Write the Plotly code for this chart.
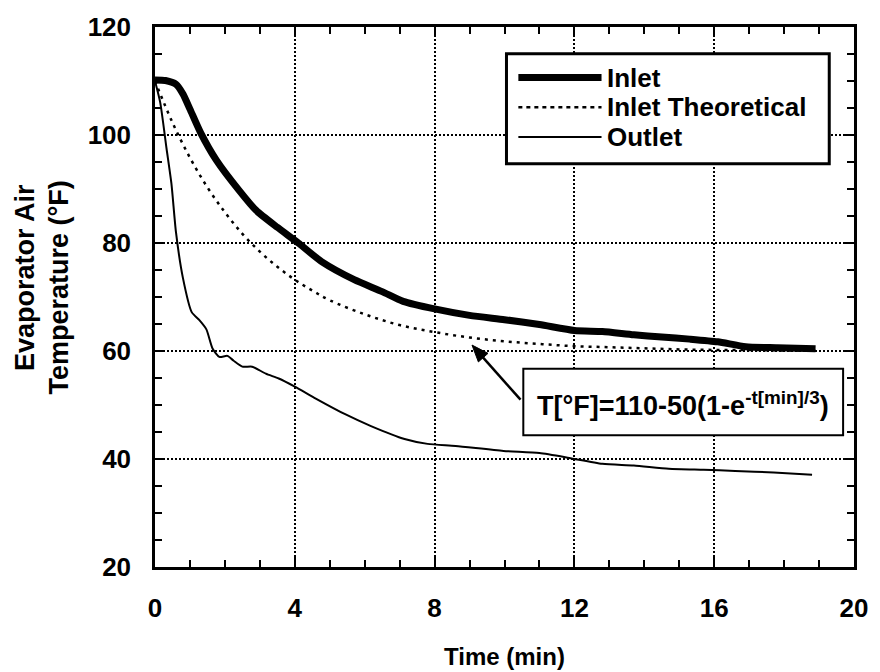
import math
import plotly.graph_objects as go

# Time (min) and evaporator air temperature (°F)
inlet_t = [0, 0.3, 0.6, 0.8, 1.0, 1.3, 1.75, 2.4, 2.9, 3.5, 4.1, 4.8, 5.7, 6.5, 7.1,
           8.0, 9.0, 10.0, 11.0, 12.0, 12.8, 13.7, 14.5, 15.3, 16.1, 16.9, 17.8, 18.9]
inlet_T = [110.2, 110.1, 109.4, 107.6, 104.8, 100.5, 95.4, 89.8, 86.0, 82.9, 80.0, 76.4,
           73.2, 71.0, 69.2, 67.8, 66.6, 65.8, 64.9, 63.8, 63.6, 63.0, 62.6, 62.2, 61.7,
           60.8, 60.6, 60.4]

theory_t = [0, 0.5, 1, 1.5, 2, 2.5, 3, 3.5, 4, 4.5, 5, 6, 7, 8, 9, 10, 11, 12, 13, 14,
            15, 16, 17, 18, 19]
theory_T = [110.0, 102.3, 95.8, 90.3, 85.7, 81.7, 78.4, 75.6, 73.2, 71.2, 69.4, 66.8,
            64.8, 63.5, 62.5, 61.8, 61.3, 60.9, 60.7, 60.5, 60.3, 60.2, 60.2, 60.1, 60.1]

outlet_t = [0, 0.15, 0.33, 0.47, 0.6, 0.8, 1.05, 1.27, 1.47, 1.65, 1.84, 2.07, 2.25, 2.5,
            2.78, 3.17, 3.54, 4.0, 4.6, 5.44, 6.18, 7.14, 7.8, 8.6, 9.97, 11.0, 11.85,
            12.8, 13.7, 14.7, 15.7, 16.6, 17.7, 18.8]
outlet_T = [110.0, 106.0, 97.5, 91.0, 82.0, 73.5, 67.2, 65.7, 64.0, 60.4, 58.9, 59.1,
            58.2, 57.1, 57.1, 55.8, 54.9, 53.4, 51.2, 48.3, 46.1, 43.7, 42.8, 42.4, 41.5,
            41.1, 40.2, 39.1, 38.8, 38.2, 38.0, 37.8, 37.5, 37.1]

series_names = ["Inlet", "Inlet Theoretical", "Outlet"]
x_ticks = [0, 4, 8, 12, 16, 20]
y_ticks = [20, 40, 60, 80, 100, 120]
x_range = [0, 20]
y_range = [20, 120]
x_title = "Time (min)"
y_title_lines = ["Evaporator Air", "Temperature (°F)"]
formula_text = "T[°F]=110-50(1-e<sup>-t[min]/3</sup>)"

# arrow target on the theoretical curve
arrow_t, arrow_T = 9.07, 61.1

FONT = "Liberation Sans, Arial, Helvetica, sans-serif"

# plot-area geometry in pixels
W, H = 880, 672
L, R, T, B = 155, 19, 22, 105
PW, PH = W - L - R, H - T - B


def px(x):
    return (x - L) / PW


def py(y):
    return (H - B - y) / PH


def data_offset(dx_px, dy_px):
    """Convert a pixel offset (y down) into data units."""
    return (dx_px * (x_range[1] - x_range[0]) / PW,
            -dy_px * (y_range[1] - y_range[0]) / PH)


fig = go.Figure()

fig.add_trace(go.Scatter(x=theory_t, y=theory_T, mode="lines", name=series_names[1],
                         line=dict(color="black", width=2.5, dash="3px,5px", shape="spline"),
                         showlegend=False))
fig.add_trace(go.Scatter(x=outlet_t, y=outlet_T, mode="lines", name=series_names[2],
                         line=dict(color="black", width=2, shape="spline", smoothing=0.6),
                         showlegend=False))
fig.add_trace(go.Scatter(x=inlet_t, y=inlet_T, mode="lines", name=series_names[0],
                         line=dict(color="black", width=7, shape="spline", smoothing=0.6),
                         showlegend=False))

axis_common = dict(
    showline=True, linecolor="black", linewidth=2.5, mirror="ticks",
    ticks="inside", ticklen=10, tickwidth=2, tickcolor="black",
    showgrid=True, gridcolor="black", griddash="2px,2px", gridwidth=2,
    zeroline=False,
    tickfont=dict(family=FONT, size=26, color="black", weight="bold"),
)

fig.update_xaxes(range=x_range, tickvals=x_ticks, ticklabelstandoff=16,
                 minor=dict(ticks="inside", ticklen=7, tickwidth=2, tickcolor="black",
                            dtick=1, showgrid=False),
                 **axis_common)
fig.update_yaxes(range=y_range, tickvals=y_ticks, ticklabelstandoff=16,
                 minor=dict(ticks="inside", ticklen=7, tickwidth=2, tickcolor="black",
                            dtick=5, showgrid=False),
                 **axis_common)

shapes = []
annotations = []

# legend box with line samples
shapes.append(dict(type="rect", xref="paper", yref="paper",
                   x0=px(510), x1=px(836), y0=py(160), y1=py(49),
                   line=dict(color="black", width=3), fillcolor="white", layer="above"))
samples = [(73, 7, "solid"), (103, 2.5, "4px,4px"), (133, 2, "solid")]
for (yy, wd, ds), name in zip(samples, series_names):
    shapes.append(dict(type="line", xref="paper", yref="paper",
                       x0=px(522), x1=px(606), y0=py(yy), y1=py(yy),
                       line=dict(color="black", width=wd, dash=ds), layer="above"))
    annotations.append(dict(xref="paper", yref="paper", x=px(610), y=py(yy),
                            xanchor="left", yanchor="middle", showarrow=False, text=name,
                            font=dict(family=FONT, size=26, color="black", weight="bold")))

# formula box
shapes.append(dict(type="rect", xref="paper", yref="paper",
                   x0=px(527), x1=px(850), y0=py(434), y1=py(367),
                   line=dict(color="black", width=2), fillcolor="white", layer="above"))
annotations.append(dict(xref="paper", yref="paper", x=px(688), y=py(402),
                        xanchor="center", yanchor="middle", showarrow=False,
                        text=formula_text,
                        font=dict(family=FONT, size=27, color="black", weight="bold")))

# arrow from the formula box to the theoretical curve
tail_px = (49, 55)
seg = math.hypot(*tail_px)
ux, uy = -tail_px[0] / seg, -tail_px[1] / seg      # unit vector tail -> tip (pixels)
head_len, head_half = 17, 6.5
tx, ty = data_offset(*tail_px)
shapes.append(dict(type="line", xref="x", yref="y",
                   x0=arrow_t + tx, y0=arrow_T + ty,
                   x1=arrow_t + data_offset(-ux * head_len * 0.6, 0)[0],
                   y1=arrow_T + data_offset(0, -uy * head_len * 0.6)[1],
                   line=dict(color="black", width=2.5), layer="above"))
bx, by = -ux * head_len, -uy * head_len
c1 = data_offset(bx + uy * head_half, by - ux * head_half)
c2 = data_offset(bx - uy * head_half, by + ux * head_half)
shapes.append(dict(type="path", xref="x", yref="y",
                   path=(f"M {arrow_t} {arrow_T} L {arrow_t + c1[0]} {arrow_T + c1[1]} "
                         f"L {arrow_t + c2[0]} {arrow_T + c2[1]} Z"),
                   fillcolor="black", line=dict(color="black", width=1), layer="above"))

# axis titles
annotations.append(dict(xref="paper", yref="paper", x=0.5, y=py(657),
                        xanchor="center", yanchor="middle", showarrow=False,
                        text=x_title,
                        font=dict(family=FONT, size=24, color="black", weight="bold")))
for text, xx, yy in zip(y_title_lines, [23, 58], [275, 285]):
    annotations.append(dict(xref="paper", yref="paper", x=px(xx), y=py(yy),
                            xanchor="center", yanchor="middle", showarrow=False,
                            textangle=-90, text=text,
                            font=dict(family=FONT, size=27, color="black", weight="bold")))

fig.update_layout(
    width=W, height=H,
    margin=dict(l=L, r=R, t=T, b=B),
    paper_bgcolor="white", plot_bgcolor="white",
    shapes=shapes, annotations=annotations,
    showlegend=False,
)

fig.write_html("out.html")
